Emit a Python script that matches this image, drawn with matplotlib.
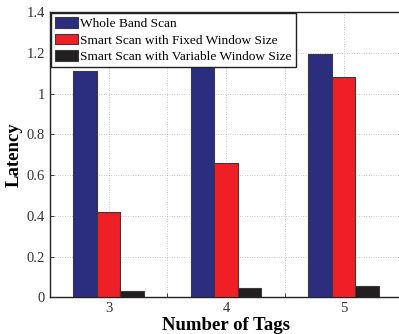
import matplotlib
matplotlib.use("Agg")
import matplotlib.pyplot as plt
import numpy as np

categories = [3, 4, 5]
series_names = ["Whole Band Scan", "Smart Scan with Fixed Window Size",
                "Smart Scan with Variable Window Size"]
whole_band = [1.112, 1.14, 1.194]
fixed_window = [0.418, 0.66, 1.082]
variable_window = [0.032, 0.047, 0.056]
yticks = [0, 0.2, 0.4, 0.6, 0.8, 1.0, 1.2, 1.4]
ytick_labels = ["0", "0.2", "0.4", "0.6", "0.8", "1", "1.2", "1.4"]

plt.rcParams['font.family'] = ['Liberation Serif', 'DejaVu Serif']

fig = plt.figure(figsize=(3.99, 3.34), dpi=100)
ax = fig.add_axes([0.1253, 0.1093, 0.883, 0.855])

colors = ["#2B2D7E", "#EE1F25", "#231F20"]
w = 0.2
x = np.array(categories, dtype=float)
for i, (vals, c, name) in enumerate(zip([whole_band, fixed_window, variable_window], colors, series_names)):
    ax.bar(x + (i - 1) * w, vals, width=w, color=c, edgecolor="#3a3a3a",
           linewidth=0.8, label=name, zorder=3)

ax.set_xlim(2.5, 5.5)
ax.set_ylim(0, 1.4)
xt = [2.5, 3, 3.5, 4, 4.5, 5, 5.5]
ax.set_xticks(xt)
ax.set_xticklabels(["" if v % 1 else str(int(v)) for v in xt], fontsize=10.5)
ax.set_yticks(yticks)
ax.set_yticklabels(ytick_labels, fontsize=10.5)
ax.tick_params(direction="in", length=3, width=0.6, colors="#222222", labelcolor="#333333")
ax.grid(True, linestyle=(0, (1, 2.5)), color="#999999", linewidth=0.5, zorder=0)
ax.set_axisbelow(True)
for s in ["top", "left", "bottom"]:
    ax.spines[s].set_linewidth(1.0)
    ax.spines[s].set_color("#222222")
ax.spines["right"].set_visible(False)

ax.set_xlabel("Number of Tags", fontsize=13.5, fontweight="bold", labelpad=1)
ax.set_ylabel("Latency", fontsize=13.5, fontweight="bold", labelpad=3)

leg = ax.legend(loc="upper left", fontsize=9.6, frameon=True, fancybox=False,
                borderaxespad=0.1, handlelength=1.7, handleheight=0.85,
                labelspacing=0.28, handletextpad=0.2, borderpad=0.28)
leg.get_frame().set_edgecolor("#222222")
leg.get_frame().set_linewidth(1.0)
leg.get_frame().set_alpha(1)

fig.savefig("out.png", dpi=100)
